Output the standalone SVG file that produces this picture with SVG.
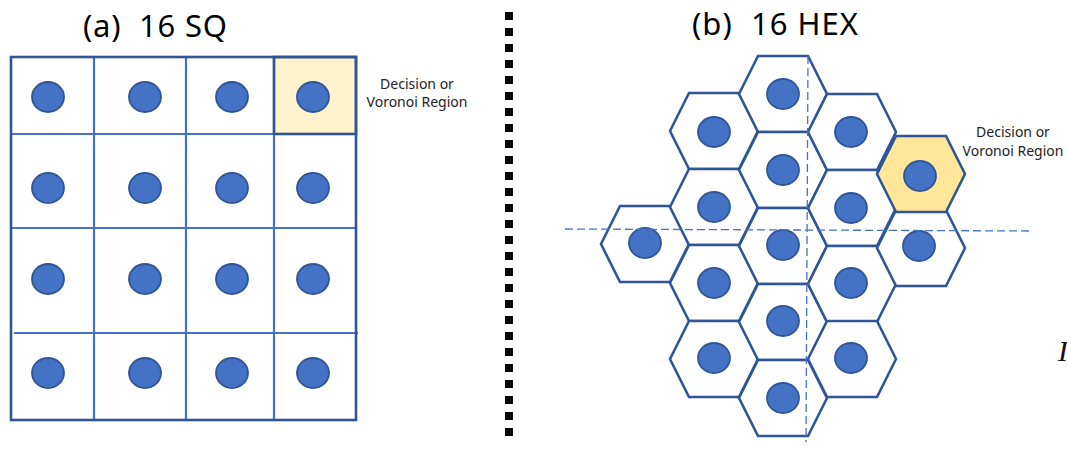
<svg xmlns="http://www.w3.org/2000/svg" width="1067" height="452" viewBox="0 0 1067 452">
  <style>
    .title { font-family: "Noto Sans", "Open Sans", sans-serif; font-size: 31px; fill: #000; white-space: pre; }
    .label { font-family: "Noto Sans", "Open Sans", sans-serif; font-size: 14px; fill: #222; text-anchor: middle; }
    .pt { fill: #4472C4; stroke: #2F5597; stroke-width: 1.8; }
    .grid { stroke: #4472C4; stroke-width: 2.2; fill: none; }
    .frame { stroke: #2F5597; stroke-width: 2.6; fill: none; }
    .hex { fill: #FFFFFF; stroke: #2F5597; stroke-width: 2.6; stroke-linejoin: miter; }
    .hex.sel { fill: #FFE699; }
    .axis { stroke: #4472C4; stroke-width: 1.3; stroke-dasharray: 8 4; fill: none; }
    .divider { stroke: #000; stroke-width: 8; stroke-dasharray: 8 8; }
  </style>
  <defs>
    <path id="hexShape" d="M-44,0 L-25,-38 L25,-38 L44,0 L25,38 L-25,38 Z"/>
  </defs>

  <rect width="1067" height="452" fill="#FFFFFF"/>

  <!-- titles -->
  <text class="title" x="83" y="37" textLength="144" lengthAdjust="spacing">(a)  16 SQ</text>
  <text class="title" x="692" y="35" textLength="166" lengthAdjust="spacing">(b)  16 HEX</text>

  <!-- (a) square lattice -->
  <g id="sq-grid">
    <rect x="274" y="57" width="82" height="77" fill="#FFF2CC"/>
    <line class="grid" x1="94" y1="57" x2="94" y2="420"/>
    <line class="grid" x1="186" y1="57" x2="186" y2="420"/>
    <line class="grid" x1="274" y1="57" x2="274" y2="420"/>
    <line class="grid" x1="11" y1="134" x2="356" y2="134"/>
    <line class="grid" x1="11" y1="228" x2="356" y2="228"/>
    <line class="grid" x1="14" y1="333" x2="358" y2="333"/>
    <rect class="frame" x="274" y="57" width="82" height="77"/>
    <rect class="frame" x="11" y="57" width="345" height="363"/>
  </g>
  <g id="sq-points">
    <ellipse class="pt" cx="48" cy="97" rx="16" ry="15"/>
    <ellipse class="pt" cx="145" cy="97" rx="16" ry="15"/>
    <ellipse class="pt" cx="232" cy="97" rx="16" ry="15"/>
    <ellipse class="pt" cx="313" cy="97" rx="16" ry="15"/>
    <ellipse class="pt" cx="48" cy="188" rx="16" ry="15"/>
    <ellipse class="pt" cx="145" cy="188" rx="16" ry="15"/>
    <ellipse class="pt" cx="232" cy="188" rx="16" ry="15"/>
    <ellipse class="pt" cx="313" cy="188" rx="16" ry="15"/>
    <ellipse class="pt" cx="48" cy="279" rx="16" ry="15"/>
    <ellipse class="pt" cx="145" cy="279" rx="16" ry="15"/>
    <ellipse class="pt" cx="232" cy="279" rx="16" ry="15"/>
    <ellipse class="pt" cx="313" cy="279" rx="16" ry="15"/>
    <ellipse class="pt" cx="48" cy="373" rx="16" ry="15"/>
    <ellipse class="pt" cx="145" cy="373" rx="16" ry="15"/>
    <ellipse class="pt" cx="232" cy="373" rx="16" ry="15"/>
    <ellipse class="pt" cx="313" cy="373" rx="16" ry="15"/>
  </g>
  <g id="sq-label">
    <text class="label" x="417" y="89">Decision or</text>
    <text class="label" x="417" y="107">Voronoi Region</text>
  </g>

  <!-- divider -->
  <line class="divider" x1="509" y1="12" x2="509" y2="436"/>

  <!-- (b) hexagonal lattice -->
  <g id="hex-c1">
    <use href="#hexShape" class="hex" transform="translate(645,244)"/>
  </g>
  <g id="hex-c2">
    <use href="#hexShape" class="hex" transform="translate(714,131)"/>
    <use href="#hexShape" class="hex" transform="translate(714,207)"/>
    <use href="#hexShape" class="hex" transform="translate(714,283)"/>
    <use href="#hexShape" class="hex" transform="translate(714,359)"/>
  </g>
  <g id="hex-c3">
    <use href="#hexShape" class="hex" transform="translate(783,94)"/>
    <use href="#hexShape" class="hex" transform="translate(783,170)"/>
    <use href="#hexShape" class="hex" transform="translate(783,246)"/>
    <use href="#hexShape" class="hex" transform="translate(783,322)"/>
    <use href="#hexShape" class="hex" transform="translate(783,398)"/>
  </g>
  <g id="hex-c4">
    <use href="#hexShape" class="hex" transform="translate(852,132)"/>
    <use href="#hexShape" class="hex" transform="translate(852,208)"/>
    <use href="#hexShape" class="hex" transform="translate(852,284)"/>
    <use href="#hexShape" class="hex" transform="translate(852,359)"/>
  </g>
  <g id="hex-c5">
    <use href="#hexShape" class="hex" transform="translate(921,248)"/>
    <use href="#hexShape" class="hex sel" transform="translate(921,174)"/>
  </g>

  <g id="hex-points">
    <ellipse class="pt" cx="645" cy="243" rx="16" ry="15"/>
    <ellipse class="pt" cx="714" cy="132" rx="16" ry="15"/>
    <ellipse class="pt" cx="714" cy="207" rx="16" ry="15"/>
    <ellipse class="pt" cx="714" cy="283" rx="16" ry="15"/>
    <ellipse class="pt" cx="714" cy="358" rx="16" ry="15"/>
    <ellipse class="pt" cx="783" cy="94" rx="16" ry="15"/>
    <ellipse class="pt" cx="783" cy="170" rx="16" ry="15"/>
    <ellipse class="pt" cx="783" cy="245" rx="16" ry="15"/>
    <ellipse class="pt" cx="783" cy="321" rx="16" ry="15"/>
    <ellipse class="pt" cx="783" cy="398" rx="16" ry="15"/>
    <ellipse class="pt" cx="851" cy="132" rx="16" ry="15"/>
    <ellipse class="pt" cx="851" cy="208" rx="16" ry="15"/>
    <ellipse class="pt" cx="851" cy="283" rx="16" ry="15"/>
    <ellipse class="pt" cx="851" cy="358" rx="16" ry="15"/>
    <ellipse class="pt" cx="920" cy="176" rx="16" ry="15"/>
    <ellipse class="pt" cx="919" cy="246" rx="16" ry="15"/>
  </g>

  <!-- symmetry axes -->
  <g id="axes">
    <line class="axis" x1="808" y1="56" x2="806" y2="442"/>
    <line class="axis" x1="565" y1="229" x2="1030" y2="231"/>
  </g>

  <g id="hex-label">
    <text class="label" x="1013" y="137">Decision or</text>
    <text class="label" x="1013" y="156">Voronoi Region</text>
  </g>

  <!-- glyph running off the right edge -->
  <text x="1058" y="361" font-family="Liberation Serif, serif" font-style="italic" font-size="30" fill="#111">Π</text>
</svg>
